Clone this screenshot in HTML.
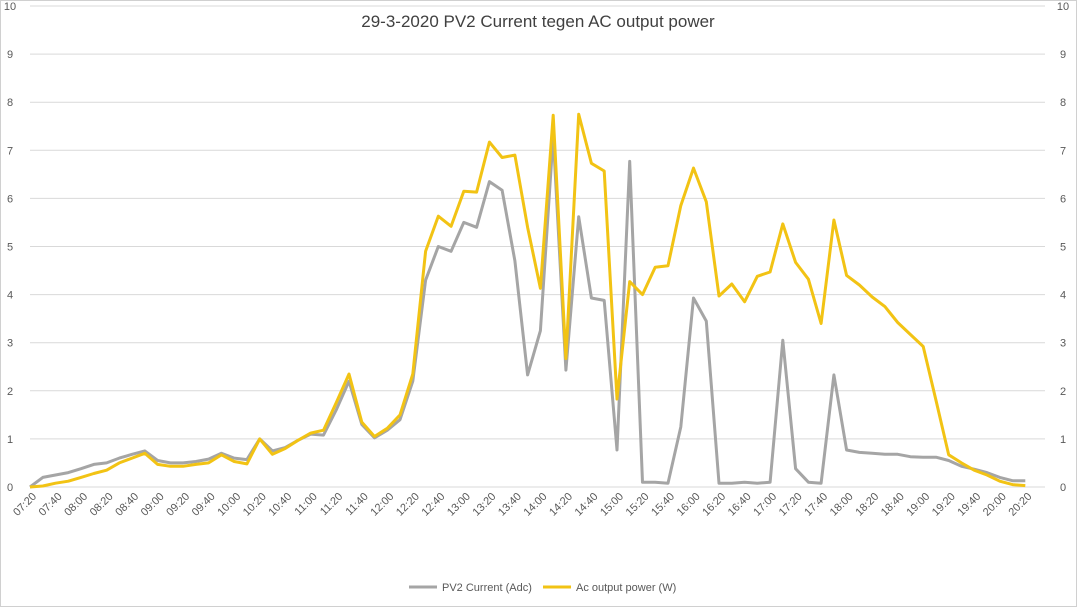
<!DOCTYPE html>
<html><head><meta charset="utf-8"><style>
html,body{margin:0;padding:0;background:#fff;}
body{width:1077px;height:608px;overflow:hidden;font-family:"Liberation Sans",sans-serif;}
</style></head><body>
<svg id="c" width="1077" height="608" xmlns="http://www.w3.org/2000/svg" font-family="Liberation Sans, sans-serif">
<rect x="0.5" y="0.5" width="1076" height="606" fill="#fff" stroke="#d0d0d0"/>
<text x="538" y="27" text-anchor="middle" font-size="17" fill="#404040">29-3-2020 PV2 Current  tegen AC output power</text>
<g id="grid"></g><g id="lab"></g><g id="ser"></g>
<g font-size="11" fill="#595959">
<line x1="409" y1="587" x2="437" y2="587" stroke="#a5a5a5" stroke-width="3"/>
<text x="442" y="591">PV2 Current (Adc)</text>
<line x1="543" y1="587" x2="571" y2="587" stroke="#f2c314" stroke-width="3"/>
<text x="576" y="591">Ac output power (W)</text>
</g>
</svg>
<script>
var G=[0,.2,.25,.3,.38,.47,.5,.6,.68,.75,.55,.5,.5,.53,.58,.7,.6,.57,1.0,.75,.82,.97,1.1,1.08,1.6,2.2,1.3,1.02,1.18,1.4,2.2,4.3,5.0,4.9,5.5,5.4,6.35,6.17,4.7,2.33,3.25,7.3,2.43,5.62,3.93,3.88,.77,6.77,.1,.1,.08,1.25,3.93,3.45,.08,.08,.1,.08,.1,3.05,.38,.1,.08,2.33,.77,.72,.7,.68,.68,.63,.62,.62,.55,.43,.37,.3,.2,.13,.13];
var Y=[0,.02,.08,.12,.2,.28,.35,.5,.6,.7,.47,.43,.43,.47,.5,.67,.53,.48,1.0,.68,.8,.97,1.12,1.18,1.75,2.35,1.35,1.05,1.22,1.5,2.35,4.9,5.63,5.42,6.15,6.13,7.17,6.85,6.9,5.4,4.13,7.73,2.67,7.75,6.73,6.57,1.83,4.27,4.0,4.57,4.6,5.85,6.63,5.93,3.97,4.22,3.85,4.38,4.47,5.47,4.67,4.32,3.4,5.55,4.4,4.2,3.95,3.75,3.42,3.17,2.92,1.8,.67,.5,.35,.25,.12,.05,.03];
function X(i){return 30+12.76*i;} function Yp(v){return 487-48.1*v;}
var g=document.getElementById('grid'),l=document.getElementById('lab'),s=document.getElementById('ser');
var h='',t='';
for(var k=0;k<=10;k++){var y=Yp(k);
h+='<line x1="30" x2="1045" y1="'+y+'" y2="'+y+'" stroke="#d9d9d9" stroke-width="1"/>';
t+='<text x="10" y="'+(y+4)+'" font-size="11" fill="#595959" text-anchor="middle">'+k+'</text>';
t+='<text x="1063" y="'+(y+4)+'" font-size="11" fill="#595959" text-anchor="middle">'+k+'</text>';}
for(var i=0;i<=78;i+=2){var m=7*60+20+i*10,hh=Math.floor(m/60),mm=m%60;
var lb=(hh<10?'0':'')+hh+':'+(mm<10?'0':'')+mm;var x=X(i)+7;
t+='<text transform="translate('+x+',497) rotate(-45)" text-anchor="end" font-size="11" fill="#595959">'+lb+'</text>';}
g.innerHTML=h;l.innerHTML=t;
function pl(a,c){return '<polyline fill="none" stroke="'+c+'" stroke-width="3" stroke-linejoin="round" points="'+a.map(function(v,i){return X(i).toFixed(1)+','+Yp(v).toFixed(1)}).join(' ')+'"/>';}
s.innerHTML=pl(G,'#a5a5a5')+pl(Y,'#f2c314');
</script>
</body></html>
